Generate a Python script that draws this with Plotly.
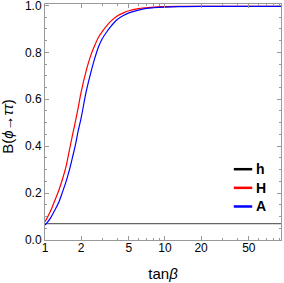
import plotly.graph_objects as go

tanb = [1, 1.1, 1.2, 1.3, 1.4, 1.5, 1.6, 1.7, 1.8, 1.9, 2.0, 2.2, 2.4, 2.6, 2.8,
        3.0, 3.3, 3.6, 4.0, 4.5, 5, 6, 7, 8, 10, 13, 20, 40, 93]
br_H = [0.078, 0.118, 0.165, 0.21, 0.26, 0.315, 0.385, 0.45, 0.51, 0.57, 0.63,
        0.72, 0.785, 0.83, 0.865, 0.888, 0.916, 0.936, 0.955, 0.968, 0.977,
        0.986, 0.990, 0.993, 0.995, 0.996, 0.996, 0.996, 0.996]
br_A = [0.063, 0.09, 0.125, 0.16, 0.205, 0.25, 0.30, 0.355, 0.41, 0.47, 0.52,
        0.63, 0.71, 0.775, 0.825, 0.858, 0.89, 0.915, 0.94, 0.957, 0.968,
        0.98, 0.987, 0.99, 0.993, 0.995, 0.996, 0.996, 0.996]
br_h = [0.070] * len(tanb)

names = ["h", "H", "A"]
colors = ["#666666", "#ff0000", "#0000ff"]
legend_colors = ["#000000", "#ff0000", "#0000ff"]

x_ticks = [1, 2, 5, 10, 20, 50]
x_minor = [3, 4, 6, 7, 8, 9, 30, 40, 60, 70, 80, 90]
y_ticks = [0, 0.2, 0.4, 0.6, 0.8, 1.0]
y_ticktext = ["0.0", "0.2", "0.4", "0.6", "0.8", "1.0"]

fig = go.Figure()
for name, ys, col, w in zip(names, [br_h, br_H, br_A], colors, [1.4, 1.2, 1.2]):
    fig.add_trace(go.Scatter(x=tanb, y=ys, mode="lines", name=name, showlegend=False,
                             hoverinfo="skip",
                             line=dict(color=col, width=w, shape="spline")))

axis_common = dict(showline=True, linecolor="#999999", linewidth=1, mirror="ticks",
                   ticks="inside", tickcolor="#999999", ticklen=4, showgrid=False,
                   zeroline=False, ticklabeloverflow="allow", automargin=False,
                   tickfont=dict(size=12, color="black", family="Liberation Sans"))
fig.update_xaxes(type="log", range=[0, 1.967], tickvals=x_ticks,
                 ticktext=[str(v) for v in x_ticks], ticklabelstandoff=-3,
                 minor=dict(tickvals=x_minor, ticks="inside", ticklen=2,
                            tickcolor="#999999"),
                 title=dict(text="tan<i>β</i>", font=dict(size=15, color="black",
                            family="Liberation Sans"), standoff=14),
                 **axis_common)
fig.update_yaxes(range=[0, 1.006], tickvals=y_ticks, ticktext=y_ticktext,
                 minor=dict(dtick=0.05, ticks="inside", ticklen=2, tickcolor="#999999"),
                 **axis_common)

# y-axis title
fig.add_annotation(text="B(<i>ϕ</i>→<i>ττ</i>)", xref="paper", yref="paper",
                   x=0, y=0.48, xanchor="center", yanchor="middle", xshift=-37,
                   textangle=-90, showarrow=False,
                   font=dict(size=15, color="black", family="Liberation Sans"))

# legend (drawn in paper coordinates)
for i, (name, col) in enumerate(zip(names, legend_colors)):
    yp = 0.30 - i * 0.079
    fig.add_shape(type="line", xref="paper", yref="paper",
                  x0=0.80, x1=0.878, y0=yp, y1=yp,
                  line=dict(color=col, width=2.5))
    fig.add_annotation(text="<b>%s</b>" % name, xref="paper", yref="paper",
                       x=0.885, y=yp, xanchor="left", yanchor="middle",
                       showarrow=False,
                       font=dict(size=14, color="black", family="Liberation Sans"))

fig.update_layout(
    width=284, height=283,
    margin=dict(l=45, r=3, t=4, b=43),
    plot_bgcolor="white", paper_bgcolor="white",
    font=dict(family="Liberation Sans", color="black"),
    showlegend=False,
)
fig.write_html("out.html", config={"displayModeBar": False},
               post_script="document.body.style.margin='0';document.body.style.overflow='hidden';")
